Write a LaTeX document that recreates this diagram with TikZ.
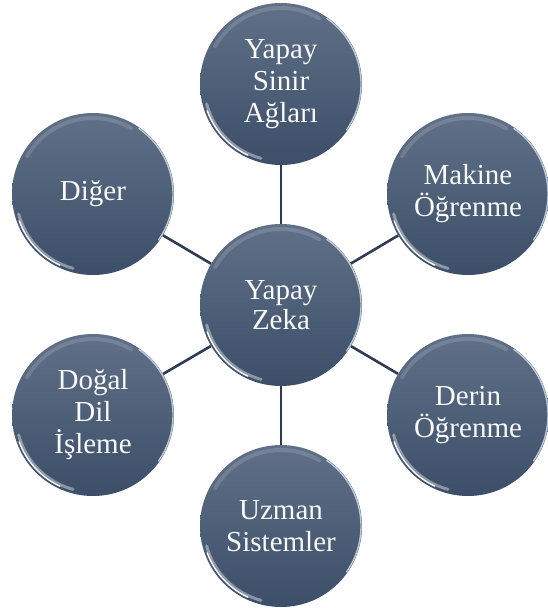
\documentclass[tikz,border=0pt]{standalone}
\usepackage{fontspec}
\setmainfont{Liberation Serif}
\usetikzlibrary{backgrounds}
\definecolor{bubtop}{RGB}{96,112,136}
\definecolor{bubbot}{RGB}{60,78,104}
\definecolor{linkc}{RGB}{45,60,82}
\definecolor{rimc}{RGB}{205,218,232}
\tikzset{
  bub/.style={circle, minimum size=162pt, inner sep=0pt, top color=bubtop, bottom color=bubbot,
    text=white!95!gray, align=center, yshift=0pt,
    font=\fontsize{29}{32}\selectfont},
  link/.style={draw=linkc, line width=2.6pt},
  hlA/.style={white, line width=3pt, opacity=0.4, line cap=round},
  hlB/.style={white, line width=1.4pt, opacity=0.95, line cap=round},
  hlC/.style={rimc, line width=1.4pt, opacity=0.85, line cap=round},
  hlD/.style={white, line width=4pt, opacity=0.14, line cap=round}
}
\begin{document}
\begin{tikzpicture}[x=1pt,y=-1pt]
\useasboundingbox (0,0) rectangle (547,608);
\node[bub] (c)  at (281,305) {\raisebox{-3pt}{\shortstack{Yapay\\Zeka}}};
\node[bub] (t)  at (281,84)  {Yapay\\Sinir\\Ağları};
\node[bub] (ur) at (468,194) {Makine\\Öğrenme};
\node[bub] (lr) at (468,415) {Derin\\Öğrenme};
\node[bub] (b)  at (281,526) {Uzman\\Sistemler};
\node[bub] (ll) at (93,415)  {Doğal\\Dil\\İşleme};
\node[bub] (ul) at (93,194)  {Diğer};
\foreach \n in {c,t,ur,lr,b,ll,ul}{
  \draw[hlA] ([shift={(195:77pt)}]\n.center) arc[start angle=195,end angle=255,radius=77pt];
  \draw[hlB] ([shift={(200:78.5pt)}]\n.center) arc[start angle=200,end angle=245,radius=78.5pt];
  \draw[hlC] ([shift={(-35:80pt)}]\n.center) arc[start angle=-35,end angle=55,radius=80pt];
  \draw[hlD] ([shift={(60:76pt)}]\n.center) arc[start angle=60,end angle=150,radius=76pt];
}
\begin{scope}[on background layer]
\fill[white] (0,0) rectangle (547,608);
\foreach \n in {t,ur,lr,b,ll,ul}{
  \draw[link] (c) -- (\n);
}
\end{scope}
\end{tikzpicture}
\end{document}
